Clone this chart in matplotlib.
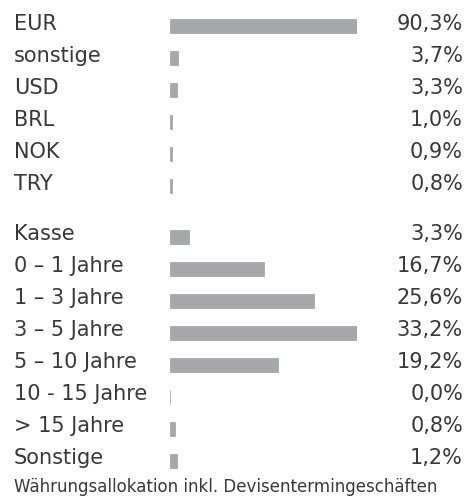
import matplotlib
matplotlib.use('Agg')
import matplotlib.pyplot as plt
from matplotlib.transforms import blended_transform_factory, offset_copy

plt.rcParams['font.family'] = ['DejaVu Sans']

# data
currencies = ['EUR', 'sonstige', 'USD', 'BRL', 'NOK', 'TRY']
currency_share = [90.3, 3.7, 3.3, 1.0, 0.9, 0.8]

maturities = ['Kasse', '0 – 1 Jahre', '1 – 3 Jahre', '3 – 5 Jahre',
              '5 – 10 Jahre', '10 - 15 Jahre', '> 15 Jahre', 'Sonstige']
maturity_share = [3.3, 16.7, 25.6, 33.2, 19.2, 0.0, 0.8, 1.2]

footnote = 'Währungsallokation inkl. Devisentermingeschäften'

BAR = '#a7a8ab'
TXT = '#383838'
W, H = 466, 497
ROW = 32.0

fig = plt.figure(figsize=(W / 100, H / 100), dpi=100)


def group(labels, values, top):
    n = len(labels)
    ax = fig.add_axes([170 / W, 1 - (top + n * ROW) / H, 187 / W, n * ROW / H])
    ax.barh(range(n), values, height=13.7 / ROW, color=BAR,
            edgecolor=BAR, linewidth=0.6)
    ax.set_xlim(0, max(values))
    ax.set_ylim(n - 0.5, -0.5)
    ax.axis('off')
    tr = blended_transform_factory(fig.transFigure, ax.transData)
    tr = offset_copy(tr, fig=fig, y=-3.5, units='dots')
    for i, (lab, v) in enumerate(zip(labels, values)):
        ax.text(14 / W, i, lab, transform=tr, va='baseline', ha='left',
                fontsize=15, color=TXT)
        ax.text(463 / W, i, f'{v:.1f}%'.replace('.', ','), transform=tr,
                va='baseline', ha='right', fontsize=15, color=TXT)
    return ax


group(currencies, currency_share, 10)
group(maturities, maturity_share, 221)

fig.text(14 / W, 1 - 492 / H, footnote, ha='left', va='baseline',
         fontsize=12, color=TXT)

fig.savefig('out.png', dpi=100)
